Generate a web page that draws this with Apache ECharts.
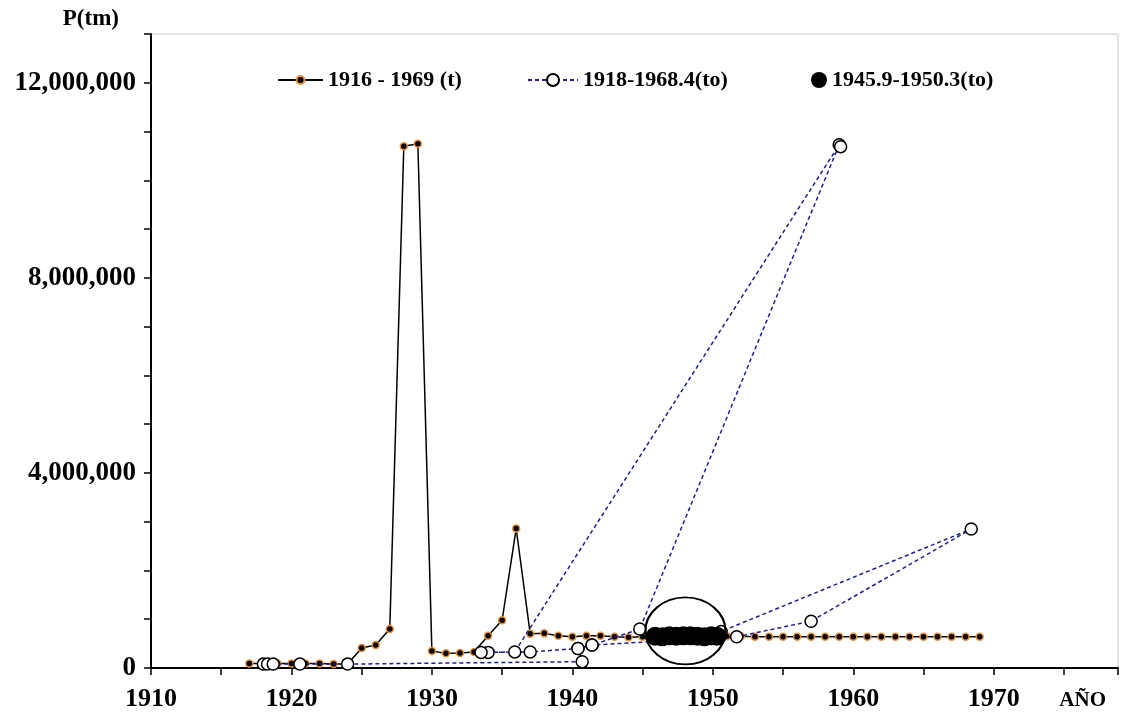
<!DOCTYPE html>
<html>
<head>
<meta charset="utf-8">
<script src="https://cdn.jsdelivr.net/npm/echarts@6/dist/echarts.min.js"></script>
<style>
  html, body { margin: 0; padding: 0; background: #fff; }
  #main { width: 1121px; height: 721px; }
</style>
</head>
<body>
<div id="main"></div>
<script>
var chartDom = document.getElementById("main");
var myChart = echarts.init(chartDom);
var option;

// serie anual (t), 1917-1969, toneladas
var yearsT = [
  1917, 1918, 1919, 1920, 1921, 1922, 1923, 1924, 1925, 1926,
  1927, 1928, 1929, 1930, 1931, 1932, 1933, 1934, 1935, 1936,
  1937, 1938, 1939, 1940, 1941, 1942, 1943, 1944, 1945, 1946,
  1947, 1948, 1949, 1950, 1951, 1952, 1953, 1954, 1955, 1956,
  1957, 1958, 1959, 1960, 1961, 1962, 1963, 1964, 1965, 1966,
  1967, 1968, 1969
];
var valuesT = [
  90000, 90000, 90000, 90000, 90000, 90000, 80000, 80000, 410000, 470000,
  800000, 10700000, 10750000, 350000, 300000, 310000, 330000, 660000, 980000, 2860000,
  700000, 710000, 660000, 640000, 660000, 660000, 640000, 630000, 640000, 650000,
  650000, 650000, 650000, 650000, 650000, 650000, 640000, 640000, 640000, 640000,
  640000, 640000, 640000, 640000, 640000, 640000, 640000, 640000, 640000, 640000,
  640000, 640000, 640000
];

// serie (to), en el orden de los datos originales
var yearsTo = [
  1918.0, 1918.3, 1918.7, 1920.6, 1924.0, 1940.7, 1940.4, 1941.4, 1944.8, 1959.0,
  1959.1, 1935.9, 1934.0, 1933.5, 1937.0, 1940.4, 1941.4, 1951.7, 1957.0, 1968.4,
  1950.6
];
var valuesTo = [
  80000, 80000, 80000, 80000, 80000, 130000, 400000, 470000, 800000, 10730000,
  10690000, 330000, 320000, 320000, 330000, 400000, 470000, 640000, 960000, 2850000,
  750000
];

// puntos 1945.9-1950.3 (to)
var yearsCluster = [1945.9, 1946.4, 1946.9, 1947.4, 1947.9, 1948.4, 1948.9, 1949.4, 1949.9, 1950.3];
var valuesCluster = [650000, 640000, 660000, 650000, 660000, 660000, 650000, 640000, 660000, 650000];

// elipse que rodea el grupo
var ellipseCenter = [1948.05, 760000];

var nameT = "1916 - 1969 (t)";
var nameTo = "1918-1968.4(to)";
var nameCluster = "1945.9-1950.3(to)";

function pairs(xs, ys) {
  return xs.map(function (x, i) { return [x, ys[i]]; });
}

var serif = "'Liberation Serif', 'Times New Roman', serif";
var legendText = { fontFamily: serif, fontWeight: "bold", fontSize: 22, color: "#000" };

option = {
  animation: false,
  backgroundColor: "#fff",
  grid: {
    left: 151,
    right: 2,
    top: 34,
    bottom: 53,
    show: true,
    borderColor: "#c8c8c8",
    borderWidth: 1
  },
  legend: [
    {
      data: [nameT],
      left: 272,
      top: 64,
      itemWidth: 45,
      itemHeight: 10,
      textStyle: legendText
    },
    {
      data: [nameTo],
      left: 522,
      top: 64,
      itemWidth: 50,
      itemHeight: 15,
      textStyle: legendText
    },
    {
      data: [nameCluster],
      left: 806,
      top: 64,
      itemWidth: 16,
      itemHeight: 16,
      textStyle: legendText
    }
  ],
  xAxis: {
    type: "value",
    min: 1910,
    max: 1978.85,
    interval: 5,
    name: "AÑO",
    nameLocation: "end",
    nameGap: -12,
    nameTextStyle: {
      fontFamily: serif, fontWeight: "bold", fontSize: 21, color: "#000",
      align: "right", verticalAlign: "top", padding: [22, 0, 0, 0]
    },
    axisLine: { onZero: false, lineStyle: { color: "#000", width: 2 } },
    axisTick: { inside: false, length: 7, lineStyle: { color: "#000", width: 1.5 } },
    axisLabel: {
      margin: 18,
      fontFamily: serif, fontWeight: "bold", fontSize: 26, color: "#000",
      formatter: function (v) { return Math.abs(v % 10) < 1e-6 ? String(v) : ""; }
    },
    splitLine: { show: false }
  },
  yAxis: {
    type: "value",
    min: 0,
    max: 13000000,
    interval: 1000000,
    name: "P(tm)",
    nameLocation: "end",
    nameGap: 3,
    nameTextStyle: {
      fontFamily: serif, fontWeight: "bold", fontSize: 23, color: "#000",
      align: "right", padding: [0, 32, 0, 0]
    },
    axisLine: { show: true, lineStyle: { color: "#000", width: 2 } },
    axisTick: { show: true, inside: false, length: 7, lineStyle: { color: "#000", width: 1.5 } },
    axisLabel: {
      margin: 15,
      fontFamily: serif, fontWeight: "bold", fontSize: 27, color: "#000",
      formatter: function (v) { return v % 4000000 === 0 ? v.toLocaleString("en-US") : ""; }
    },
    splitLine: { show: false }
  },
  series: [
    {
      name: nameT,
      type: "line",
      data: pairs(yearsT, valuesT),
      symbol: "circle",
      symbolSize: 7,
      showAllSymbol: true,
      itemStyle: { color: "#000", borderColor: "#e8913a", borderWidth: 1.5 },
      lineStyle: { color: "#000", width: 1.5 },
      z: 2
    },
    {
      name: nameTo,
      type: "line",
      data: pairs(yearsTo, valuesTo),
      symbol: "circle",
      symbolSize: 12,
      showAllSymbol: true,
      itemStyle: { color: "#fff", borderColor: "#000", borderWidth: 1.5 },
      lineStyle: { color: "#1c1c9c", width: 1.5, type: [4, 3] },
      z: 3
    },
    {
      name: nameCluster,
      type: "scatter",
      data: pairs(yearsCluster, valuesCluster),
      symbol: "circle",
      symbolSize: 19,
      itemStyle: { color: "#000", opacity: 1 },
      z: 4
    },
    {
      name: "elipse",
      type: "scatter",
      data: [ellipseCenter],
      symbol: "circle",
      symbolSize: [80, 67],
      silent: true,
      itemStyle: { color: "rgba(0,0,0,0)", borderColor: "#000", borderWidth: 2, opacity: 1 },
      z: 5
    }
  ]
};

option && myChart.setOption(option);
</script>
</body>
</html>
